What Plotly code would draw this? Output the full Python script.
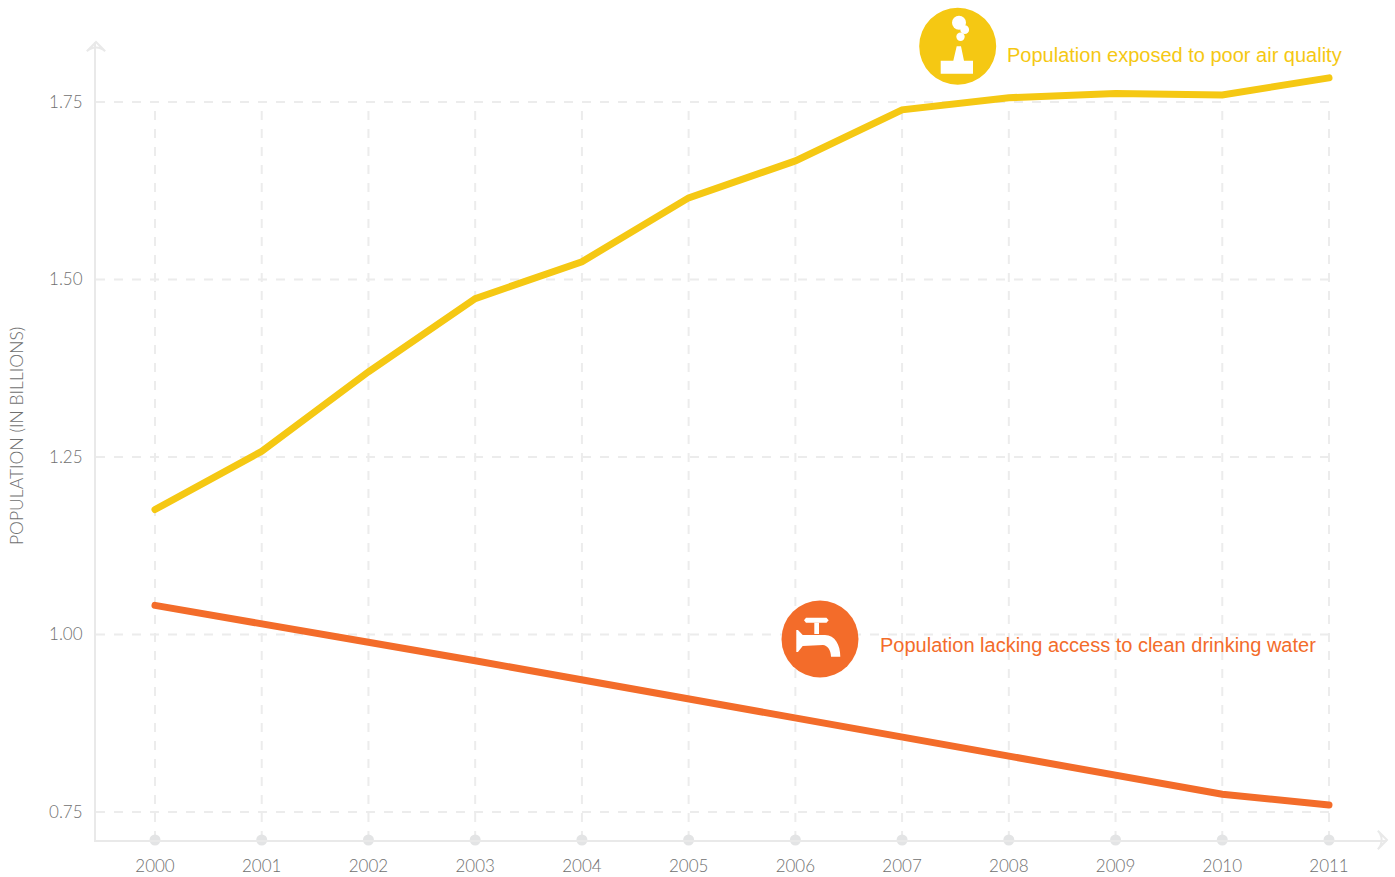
import plotly.graph_objects as go

years = [2000, 2001, 2002, 2003, 2004, 2005, 2006, 2007, 2008, 2009, 2010, 2011]
air_quality = [1.176, 1.258, 1.370, 1.473, 1.525, 1.615, 1.667, 1.739, 1.756, 1.762, 1.760, 1.784]
drinking_water = [1.041, 1.016, 0.989, 0.963, 0.936, 0.909, 0.882, 0.856, 0.827, 0.801, 0.775, 0.760]
y_ticks = [0.75, 1.00, 1.25, 1.50, 1.75]
y_tick_labels = ["0.75", "1.00", "1.25", "1.50", "1.75"]

AIR_LABEL = "Population exposed to poor air quality"
WATER_LABEL = "Population lacking access to clean drinking water"
Y_TITLE = "POPULATION (IN BILLIONS)"

YELLOW = "#F5C813"
ORANGE = "#F36C2A"
GRID = "#ECECEC"
AXIS = "#E9E9E9"
DOT = "#E3E4E5"
TEXT = "#707070"
TICK_FONT = "Lato"

W, H = 1395, 877
L, R, T, B = 96, 1387, 42, 840
X_RANGE = [2000 - 59 / 106.73, 2011 + 58 / 106.73]
Y_RANGE = [0.75 - 28 / 710, 1.75 + 60 / 710]


def px(x):
    return (x - L) / (R - L)


def py(y):
    return (B - y) / (B - T)


def pt(x, y):
    return f"{px(x):.5f},{py(y):.5f}"


def circle(cx, cy, r, color):
    return dict(type="circle", xref="paper", yref="paper", layer="above",
                x0=px(cx - r), x1=px(cx + r), y0=py(cy + r), y1=py(cy - r),
                fillcolor=color, line_width=0)


def path(d, color):
    return dict(type="path", xref="paper", yref="paper", layer="above",
                path=d, fillcolor=color, line_width=0)


def poly(points):
    return "M" + " L".join(pt(*p) for p in points) + " Z"


fig = go.Figure()

# dashed guides stop at the last year and the top tick
for yr in years:
    fig.add_trace(go.Scatter(x=[yr, yr], y=[Y_RANGE[0], y_ticks[-1]], mode="lines",
                             line=dict(color=GRID, width=2, dash="9px,9px"),
                             hoverinfo="skip", showlegend=False))
for v in y_ticks:
    fig.add_trace(go.Scatter(x=[X_RANGE[0], years[-1]], y=[v, v], mode="lines",
                             line=dict(color=GRID, width=2, dash="9px,9px"),
                             hoverinfo="skip", showlegend=False))

# year dots on the axis
fig.add_trace(go.Scatter(x=years, y=[Y_RANGE[0]] * len(years), mode="markers",
                         marker=dict(color=DOT, size=11), cliponaxis=False,
                         hoverinfo="skip", showlegend=False))

# axis arrow heads
fig.add_trace(go.Scatter(x=[X_RANGE[0]], y=[Y_RANGE[1]], mode="markers", cliponaxis=False,
                         marker=dict(symbol="arrow-wide-open", size=13, angle=0,
                                     color=AXIS, line=dict(color=AXIS, width=2)),
                         hoverinfo="skip", showlegend=False))
fig.add_trace(go.Scatter(x=[X_RANGE[1]], y=[Y_RANGE[0]], mode="markers", cliponaxis=False,
                         marker=dict(symbol="arrow-wide-open", size=13, angle=90,
                                     color=AXIS, line=dict(color=AXIS, width=2)),
                         hoverinfo="skip", showlegend=False))

for name, values, color in [(AIR_LABEL, air_quality, YELLOW), (WATER_LABEL, drinking_water, ORANGE)]:
    fig.add_trace(go.Scatter(x=years, y=values, mode="lines", name=name,
                             line=dict(color=color, width=7), showlegend=False))

shapes = [
    # factory icon
    circle(957.7, 46.3, 38.5, YELLOW),
    path(poly([(940.7, 60.7), (953.3, 60.7), (956.7, 46.3), (961, 46.3), (964, 60.7),
               (973, 60.7), (973, 73.7), (940.7, 73.7)]), "white"),
    circle(959, 22.7, 7, "white"),
    circle(964.7, 29.7, 4.4, "white"),
    circle(960.5, 36.7, 4.2, "white"),
    # tap icon
    circle(820, 639, 38.5, ORANGE),
    path(poly([(806, 617.7), (826.5, 617.7), (828.7, 620.2), (826.5, 622.7), (806, 622.7), (804, 620.2)]), "white"),
    path(poly([(814.3, 622.7), (819, 622.7), (819, 634), (814.3, 634)]), "white"),
    path("M" + pt(796.3, 630) + " L" + pt(798, 630) + " L" + pt(802.7, 635) + " L" + pt(825, 635)
         + " C" + pt(835, 635) + " " + pt(840.3, 645) + " " + pt(840.3, 656.7)
         + " L" + pt(831, 656.7)
         + " C" + pt(831, 650) + " " + pt(827, 645) + " " + pt(823, 645)
         + " L" + pt(802.7, 646) + " L" + pt(798, 652) + " L" + pt(796.3, 652) + " Z", "white"),
]

annotations = [
    dict(text=AIR_LABEL, xref="paper", yref="paper", x=px(1005), y=py(55), xanchor="left", yanchor="middle",
         showarrow=False, font=dict(family="Liberation Sans", size=20, color=YELLOW)),
    dict(text=WATER_LABEL, xref="paper", yref="paper", x=px(878), y=py(645), xanchor="left", yanchor="middle",
         showarrow=False, font=dict(family="Liberation Sans", size=20, color=ORANGE)),
    dict(text=Y_TITLE, xref="paper", yref="paper", x=px(16), y=py(436), xanchor="center", yanchor="middle",
         textangle=-90, showarrow=False, font=dict(family=TICK_FONT, size=17.5, color=TEXT, weight=300)),
]

fig.update_layout(
    width=W, height=H, autosize=False,
    margin=dict(l=L, r=W - R, t=T, b=H - B, pad=0),
    paper_bgcolor="white", plot_bgcolor="white",
    showlegend=False, shapes=shapes, annotations=annotations,
    xaxis=dict(range=X_RANGE, tickmode="array", tickvals=years, ticktext=[str(y) for y in years],
               automargin=False, showgrid=False, zeroline=False, showline=True, linecolor=AXIS, linewidth=2,
               ticks="outside", ticklen=10, tickcolor="rgba(0,0,0,0)",
               tickfont=dict(family=TICK_FONT, size=17, color=TEXT, weight=300)),
    yaxis=dict(range=Y_RANGE, tickmode="array", tickvals=y_ticks, ticktext=y_tick_labels,
               automargin=False, showgrid=False, zeroline=False, showline=True, linecolor=AXIS, linewidth=2,
               ticks="outside", ticklen=8, tickcolor="rgba(0,0,0,0)",
               tickfont=dict(family=TICK_FONT, size=17, color=TEXT, weight=300)),
)

POST = """
document.body.style.margin='0';
document.querySelectorAll('.js-line').forEach(function(p){
  if (parseFloat(p.style.strokeWidth) >= 6) { p.style.strokeLinecap = 'round'; }
});
"""
fig.write_html("out.html", post_script=POST, config={"displayModeBar": False})
